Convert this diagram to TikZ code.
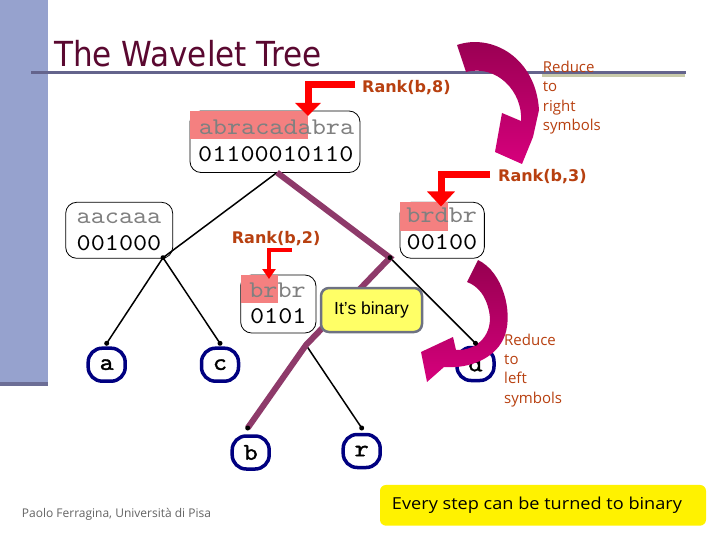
\documentclass[tikz,border=0pt]{standalone}
\usepackage{fontspec}
\usetikzlibrary{arrows.meta}
\newfontfamily\tahoma{DejaVu Sans}[FakeStretch=0.9]
\newfontfamily\dv{DejaVu Sans}
\newfontfamily\cour{lmmono10-regular.otf}[FakeStretch=1.12]
\newfontfamily\courb{lmmono10-regular.otf}[FakeStretch=1.12,FakeBold=1.5]
\newfontfamily\comic{Open Sans}
\newfontfamily\comicw{Open Sans}[FakeStretch=1.1]
\newfontfamily\arial{Liberation Sans}
\definecolor{side}{RGB}{150,162,206}
\definecolor{sidedark}{RGB}{108,110,150}
\definecolor{titlec}{RGB}{90,8,48}
\definecolor{slate}{RGB}{100,100,140}
\definecolor{olivec}{RGB}{200,202,170}
\definecolor{rust}{RGB}{184,64,16}
\definecolor{hl}{RGB}{244,128,128}
\definecolor{graytxt}{RGB}{128,128,128}
\definecolor{purp}{RGB}{142,58,106}
\definecolor{navyc}{RGB}{0,0,128}
\definecolor{magA}{RGB}{150,0,80}
\definecolor{magB}{RGB}{214,0,124}
\definecolor{lyel}{RGB}{255,255,102}
\definecolor{ybord}{RGB}{110,114,130}
\definecolor{footc}{RGB}{100,100,100}
\definecolor{redarr}{RGB}{255,0,0}
\begin{document}
\begin{tikzpicture}[x=1pt,y=-1pt,
  wbox/.style={draw=black, line width=0.8pt, rounded corners=11pt, inner sep=0},
  leaf/.style={draw=navyc, line width=3.5pt, rounded corners=14pt, minimum width=37pt, minimum height=33pt, inner sep=0, font=\courb\fontsize{24}{24}\selectfont},
  mono/.style={font=\cour\fontsize{24}{24}\selectfont, inner sep=0, anchor=base},
  hlbox/.style={fill=hl},
  rank/.style={font=\dv\bfseries\fontsize{16}{16}\selectfont, text=rust, inner sep=0, anchor=base west},
  redL/.style={draw=redarr, line width=7pt, line join=miter, -{Triangle[width=25pt,length=13pt]}},
  redLs/.style={draw=redarr, line width=4pt, line join=miter, -{Triangle[width=13pt,length=10pt]}},
  edge/.style={draw=black, line width=1.5pt},
  pedge/.style={draw=purp, line width=6pt, line join=miter},
  dot/.style={fill=black},
  reduce/.style={font=\comic\fontsize{15}{19.4}\selectfont, text=rust, align=left, inner sep=0, anchor=base west},
  magarrow/.style={top color=magA, bottom color=magB},
]
\useasboundingbox (0,0) rectangle (720,540);
\fill[white] (0,0) rectangle (720,540);
% sidebar
\fill[side] (0,0) rectangle (48,381.5);
\fill[sidedark] (0,381.5) rectangle (48,386);
% title
\draw[olivec, line width=3pt] (542,76) -- (685,76);
\draw[slate, line width=3pt] (31,73) -- (686,73);
\node[anchor=base west, inner sep=0, font=\tahoma\fontsize{34.5}{34.5}\selectfont, text=titlec] (title) at (54,66.7) {The Wavelet Tree};

% internal nodes
\node[wbox, minimum width=170pt, minimum height=61.5pt] (root) at (275,141.75) {};
\fill[hlbox] (190,111) rectangle (308,139);
\node[mono, text=graytxt] (rootS) at (276.5,134.3) {abracadabra};
\node[mono] (rootB) at (275.8,161.7) {01100010110};

\node[wbox, minimum width=107pt, minimum height=56pt] (left) at (119.2,230.3) {};
\node[mono, text=graytxt] (leftS) at (119,223.3) {aacaaa};
\node[mono] (leftB) at (119,250) {001000};

\node[wbox, minimum width=84.3pt, minimum height=56pt] (right) at (442.2,230.3) {};
\fill[hlbox] (400,202.3) rectangle (447.7,230.7);
\node[mono, text=graytxt] (rightS) at (441.7,222.3) {brdbr};
\node[mono] (rightB) at (442,249.3) {00100};

\node[wbox, minimum width=75.3pt, minimum height=58pt] (mid) at (278.3,304) {};
\fill[hlbox] (240.7,275) rectangle (277.7,303.3);
\node[mono, text=graytxt] (midS) at (277.5,297.3) {brbr};
\node[mono] (midB) at (278.3,323.3) {0101};

% leaves
\node[leaf] (la) at (106.7,364.7) {a};
\node[leaf] (lc) at (220,364.7) {c};
\node[leaf] (lb) at (250.7,452.5) {b};
\node[leaf] (lr) at (361.7,451) {r};
\node[leaf] (ld) at (475.5,364) {d};

% magenta curved arrows
\shade[magarrow] (457,45) .. controls (492,33) and (536,58) .. (539,110) -- (533,137) -- (522,164) -- (495,152) -- (502,113) -- (521,121) .. controls (523,92) and (497,64) .. (466,72) -- cycle;
\shade[magarrow] (478,260) .. controls (503,272) and (513,312) .. (505,335) .. controls (497,358) and (470,369) .. (444,367) -- (427,382) -- (421,352) -- (453,337) -- (456,350) .. controls (478,351) and (494,333) .. (489,311) .. controls (486,296) and (478,286) .. (467,282) -- cycle;

% junction coordinates
\coordinate (rootJ) at (277,172.5);
\coordinate (leftJ) at (163,257.7);
\coordinate (rightJ) at (390,257.7);
\coordinate (midJ) at (306,345);
\coordinate (aT) at (106.7,343.3);
\coordinate (cT) at (220,343.3);
\coordinate (dT) at (475.5,343.3);
\coordinate (bT) at (247.7,428);
\coordinate (rT) at (361.7,428);

% tree edges
\draw[edge] (rootJ) -- (leftJ);
\draw[edge] (leftJ) -- (aT);
\draw[edge] (leftJ) -- (cT);
\draw[edge] (rightJ) -- (dT);
\draw[edge] (midJ) -- (rT);
\draw[pedge] (rootJ) -- (rightJ) -- (midJ) -- (bT);
\foreach \p in {leftJ,aT,cT,dT,rT,bT,rightJ} \fill[dot] (\p) circle (2.5);

% It's binary box
\node[draw=ybord, fill=lyel, line width=2.5pt, rounded corners=8pt, minimum width=101pt, minimum height=44pt, inner sep=0, font=\arial\fontsize{17.5}{17.5}\selectfont] (bin) at (371.5,310) {It’s binary};

% rank arrows and labels
\coordinate (r8s) at (355,85); \coordinate (r8t) at (308,116);
\draw[redL] (r8s) -| (r8t);
\node[rank] (rank8) at (362,92.5) {Rank(b,8)};
\coordinate (r3s) at (490,175); \coordinate (r3t) at (441,206.5);
\draw[redL, -{Triangle[width=27pt,length=15pt]}] (r3s) -| (r3t);
\node[rank] (rank3) at (498,181.5) {Rank(b,3)};
\node[rank] (rank2) at (231.7,243.5) {Rank(b,2)};
\coordinate (r2s) at (291.7,249.5); \coordinate (r2t) at (269,279);
\draw[redLs] (r2s) -| (r2t);

% reduce captions (base anchor = last line)
\node[reduce] (redR) at (542.7,130.5) {Reduce\\to\\right\\symbols};
\node[reduce] (redLft) at (504,403.2) {Reduce\\to\\left\\symbols};

% footer
\node[anchor=base west, inner sep=0, font=\comic\fontsize{12}{12}\selectfont, text=footc] (foot) at (21.7,517.5) {Paolo Ferragina, Università di Pisa};
\node[fill=yellow, rounded corners=6pt, minimum width=326pt, minimum height=40.7pt, inner sep=0, font=\comicw\fontsize{16.5}{16.5}\selectfont] (every) at (543,505.3) {\kern-12pt Every step can be turned to binary};
\end{tikzpicture}
\end{document}
